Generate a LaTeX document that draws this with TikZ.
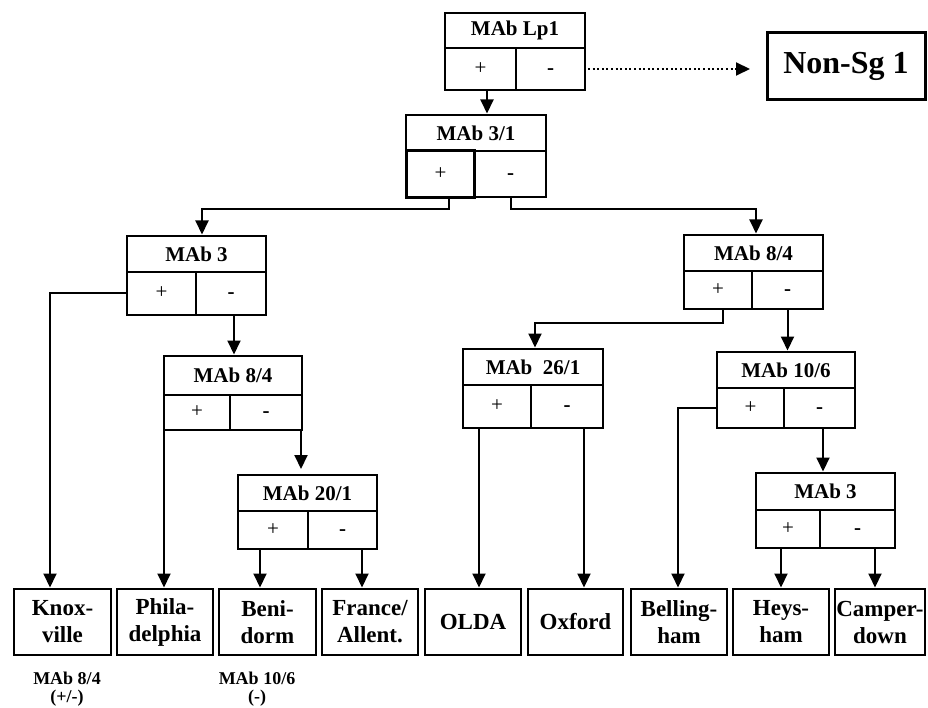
\documentclass[tikz,border=0pt]{standalone}
\usepackage{fontspec}
\setmainfont{Liberation Serif}
\usetikzlibrary{arrows.meta,calc}
\tikzset{
 hdr/.style={draw, line width=2pt, inner sep=0pt, outer sep=0pt, font=\bfseries\fontsize{21}{22}\selectfont, anchor=north west},
 cellbox/.style={draw, line width=2pt, inner sep=0pt, outer sep=0pt, text height=10.6pt, text depth=0pt, font=\fontsize{21}{22}\selectfont, anchor=north west},
 leaf/.style={draw, line width=2.2pt, inner sep=0pt, outer sep=0pt, minimum height=66pt, align=center, font=\bfseries\fontsize{23}{27}\selectfont, anchor=north west},
 conn/.style={line width=2pt, shorten >=1.5pt, -{Triangle[length=14pt,width=13pt]}},
 note/.style={align=center, font=\bfseries\fontsize{18}{18}\selectfont}
}
\newcommand\testbox[8]{%
 \node[hdr, minimum width=#4pt, minimum height=#5pt] (#1) at (#2,#3) {#8};
 \node[cellbox, minimum width=#7pt, minimum height=#6pt] (#1p) at (#1.south west) {+};
 \node[cellbox, minimum width=#4pt-#7pt, minimum height=#6pt] (#1m) at (#1p.north east) {\textbf{-}};
}
\begin{document}
\begin{tikzpicture}[x=1pt,y=-1pt]
\fill[white] (0,0) rectangle (928,708);
\useasboundingbox (0,0) rectangle (928,708);
% test boxes
\testbox{Lp1}{445}{13}{140}{35}{42}{71}{MAb Lp1}
\testbox{B31}{406}{115}{140}{36}{46}{69}{MAb 3/1}
\testbox{B3L}{127}{236}{139}{36}{43}{69}{MAb 3}
\testbox{B84R}{684}{235}{139}{36}{38}{68}{MAb 8/4}
\testbox{B84L}{164}{356}{138}{39}{35}{66}{MAb 8/4}
\testbox{B261}{463}{349}{140}{36}{43}{68}{MAb\ \ 26/1}
\testbox{B106}{717}{352}{138}{36}{40}{67}{MAb 10/6}
\testbox{B201}{238}{475}{139}{36}{38}{70}{MAb 20/1}
\testbox{B3R}{756}{473}{139}{37}{38}{64}{MAb 3}
\draw[line width=3.5pt] ([shift={(0.5pt,-0.5pt)}]B31p.south west) rectangle ([shift={(-0.5pt,0.5pt)}]B31p.north east);
% non-Sg
\node[draw, line width=3pt, inner sep=0pt, outer sep=0pt, minimum width=158pt, minimum height=67pt, anchor=north west, font=\bfseries\fontsize{32}{34}\selectfont] (nonsg) at (767,33) {Non-Sg 1};
% leaves
\node[leaf, minimum width=97pt] (knox) at (14,589) {Knox-\\ville};
\node[leaf, minimum width=96pt] (phila) at (117,589) {Phila-\\delphia};
\node[leaf, minimum width=97pt] (beni) at (219,589) {Beni-\\dorm};
\node[leaf, minimum width=96pt] (france) at (322,589) {France/\\Allent.};
\node[leaf, minimum width=96pt] (olda) at (425,589) {OLDA};
\node[leaf, minimum width=95pt] (oxford) at (528,589) {Oxford};
\node[leaf, minimum width=96pt] (bell) at (631,589) {Belling-\\ham};
\node[leaf, minimum width=96pt] (heys) at (733,589) {Heys-\\ham};
\node[leaf, minimum width=90pt] (camper) at (835,589) {Camper-\\down};
% notes
\node[note] (n1) at (67,689) {MAb 8/4\\(+/-)};
\node[note] (n2) at (257,689) {MAb 10/6\\(-)};
% connectors
\draw[conn] ([xshift=6.5pt]Lp1p.south) -- ([xshift=6.5pt]Lp1p.south |- B31.north);
\draw[conn, shorten <=3pt, shorten >=17pt, dash pattern=on 2pt off 2.6pt] (Lp1m.east) -- (Lp1m.east -| nonsg.west);
\draw[conn] ([xshift=8.5pt]B31p.south) -- ++(0,12) -| ([xshift=5.5pt]B3L.north);
\draw[conn] (B31m.south) -- ++(0,12) -| ([xshift=2.5pt]B84R.north);
\draw[conn] (B3Lp.west) -| ([xshift=-12.5pt]knox.north);
\draw[conn] ([xshift=3pt]B3Lm.south) -- ([xshift=3pt]B3Lm.south |- B84L.north);
\draw[conn] (B84Lp.south west) -- (B84Lp.south west |- phila.north);
\draw[conn, shorten >=6pt] ([xshift=-1pt]B84Lm.south east) -- ([xshift=-1pt]B84Lm.south east |- B201.north);
\draw[conn] ([xshift=5pt]B84Rp.south) -- ++(0,14) -| ([xshift=2pt]B261.north);
\draw[conn] (B84Rm.south) -- (B84Rm.south |- B106.north);
\draw[conn] ([xshift=-18pt]B261p.south) -- ([xshift=-18pt]B261p.south |- olda.north);
\draw[conn] ([xshift=17pt]B261m.south) -- ([xshift=17pt]B261m.south |- oxford.north);
\draw[conn] (B106p.west) -| ([xshift=-1pt]bell.north);
\draw[conn] ([xshift=3.5pt]B106m.south) -- ([xshift=3.5pt]B106m.south |- B3R.north);
\draw[conn] ([xshift=-13pt]B201p.south) -- ([xshift=-13pt]B201p.south |- beni.north);
\draw[conn] ([xshift=19.5pt]B201m.south) -- ([xshift=19.5pt]B201m.south |- france.north);
\draw[conn] ([xshift=-7pt]B3Rp.south) -- ([xshift=-7pt]B3Rp.south |- heys.north);
\draw[conn] ([xshift=17.5pt]B3Rm.south) -- ([xshift=17.5pt]B3Rm.south |- camper.north);
\end{tikzpicture}
\end{document}
